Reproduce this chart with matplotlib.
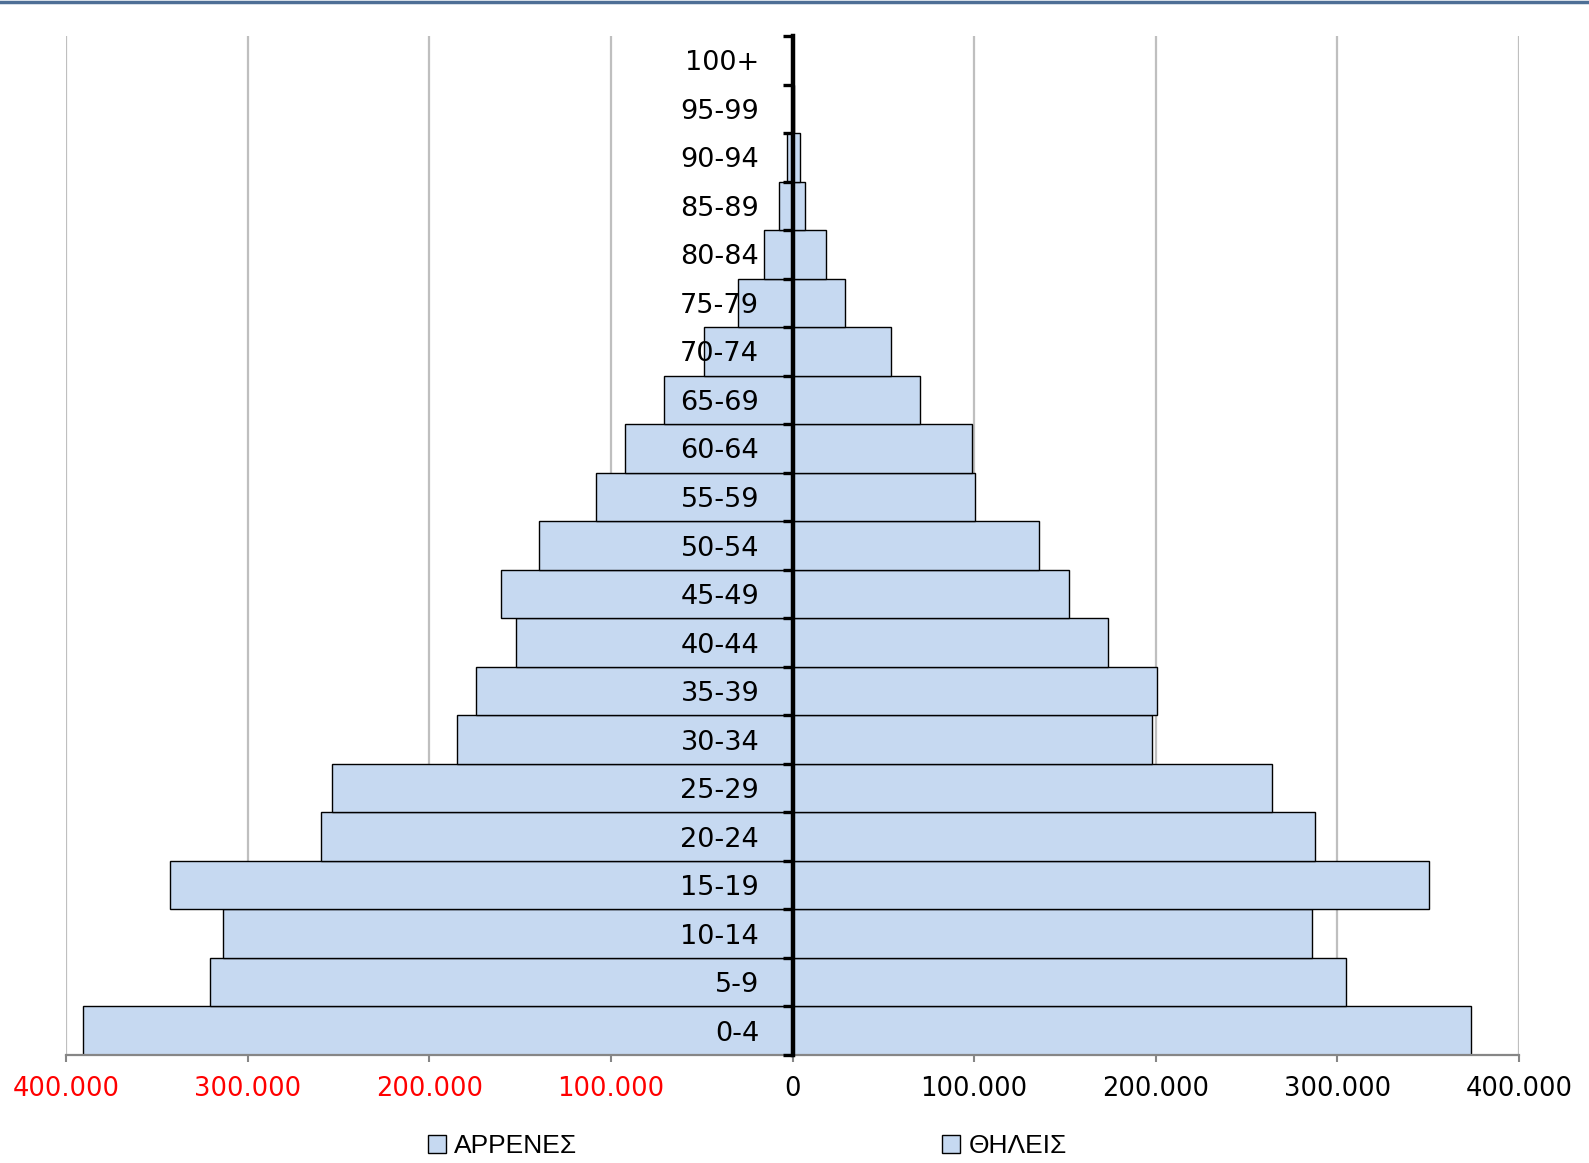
import matplotlib
matplotlib.use("Agg")
import matplotlib.pyplot as plt
from matplotlib.patches import Patch
from matplotlib.lines import Line2D
from matplotlib.ticker import FuncFormatter, FixedLocator
import numpy as np

age_groups = ["0-4", "5-9", "10-14", "15-19", "20-24", "25-29", "30-34", "35-39",
              "40-44", "45-49", "50-54", "55-59", "60-64", "65-69", "70-74", "75-79",
              "80-84", "85-89", "90-94", "95-99", "100+"]
males = [390700, 320500, 313300, 342800, 259800, 253600, 184500, 174500,
         152200, 160500, 139400, 108100, 92000, 70800, 48500, 30100,
         15600, 7200, 3300, 500, 50]
females = [373500, 304900, 286000, 350600, 287600, 264200, 197900, 200700,
           173900, 152200, 135500, 100300, 98700, 70200, 54100, 29000,
           18400, 6700, 3900, 800, 100]
x_ticks = [-400000, -300000, -200000, -100000, 0, 100000, 200000, 300000, 400000]
legend_labels = ["ΑΡΡΕΝΕΣ", "ΘΗΛΕΙΣ"]

bar_color = "#C6D9F1"
W, H = 1589, 1163
fig = plt.figure(figsize=(W / 100, H / 100), dpi=100)
ax = fig.add_axes([66 / W, 1 - 1055 / H, (1519 - 66) / W, (1055 - 36) / H])

y = np.arange(len(age_groups))
ax.barh(y, [-m for m in males], height=1.0, color=bar_color, edgecolor="black",
        linewidth=1.0, zorder=1)
ax.barh(y, females, height=1.0, color=bar_color, edgecolor="black",
        linewidth=1.0, zorder=1)

ax.set_xlim(x_ticks[0], x_ticks[-1])
ax.set_ylim(-0.5, len(age_groups) - 0.5)

# x axis
ax.xaxis.set_major_locator(FixedLocator(x_ticks))
ax.xaxis.set_major_formatter(FuncFormatter(lambda v, p: f"{abs(int(v)):,}".replace(",", ".")))
ax.grid(axis="x", color="#BFBFBF", linewidth=1.6)
ax.tick_params(axis="x", direction="out", length=5, width=1.5, color="#868686",
               labelsize=18.5, pad=10)
ax.xaxis.set_zorder(0.5)

# y axis at zero
ax.spines["left"].set_position(("data", 0))
ax.spines["left"].set_linewidth(3.2)
ax.spines["left"].set_color("black")
ax.spines["left"].set_zorder(4)
ax.spines["right"].set_visible(False)
ax.spines["top"].set_visible(False)
ax.spines["bottom"].set_color("#868686")
ax.spines["bottom"].set_linewidth(1.6)
ax.set_yticks(y)
ax.set_yticklabels(age_groups)
ax.set_yticks(np.arange(len(age_groups) + 1) - 0.5, minor=True)
ax.tick_params(axis="y", which="major", length=0, labelsize=19.5, pad=24)
ax.tick_params(axis="y", which="minor", direction="out", length=7.5, width=2.4, color="black")
ax.yaxis.set_zorder(3)

for lbl, v in zip(ax.get_xticklabels(), x_ticks):
    lbl.set_color("red" if v < 0 else "black")

# legend
for lab, xpos in zip(legend_labels, [428 / W, 942 / W]):
    h = Patch(facecolor=bar_color, edgecolor="black", linewidth=1.0)
    fig.legend([h], [lab], loc="center left", bbox_to_anchor=(xpos, 1 - 1146 / H),
               frameon=False, handlelength=0.7, handleheight=0.7,
               handletextpad=0.3, borderpad=0, borderaxespad=0,
               prop={"family": "Liberation Sans", "size": 19})

# top border line
fig.add_artist(Line2D([0, 1], [1 - 1.5 / H, 1 - 1.5 / H], color="#4E6F96", linewidth=2.5,
                      transform=fig.transFigure))

fig.savefig("out.png", dpi=100)
